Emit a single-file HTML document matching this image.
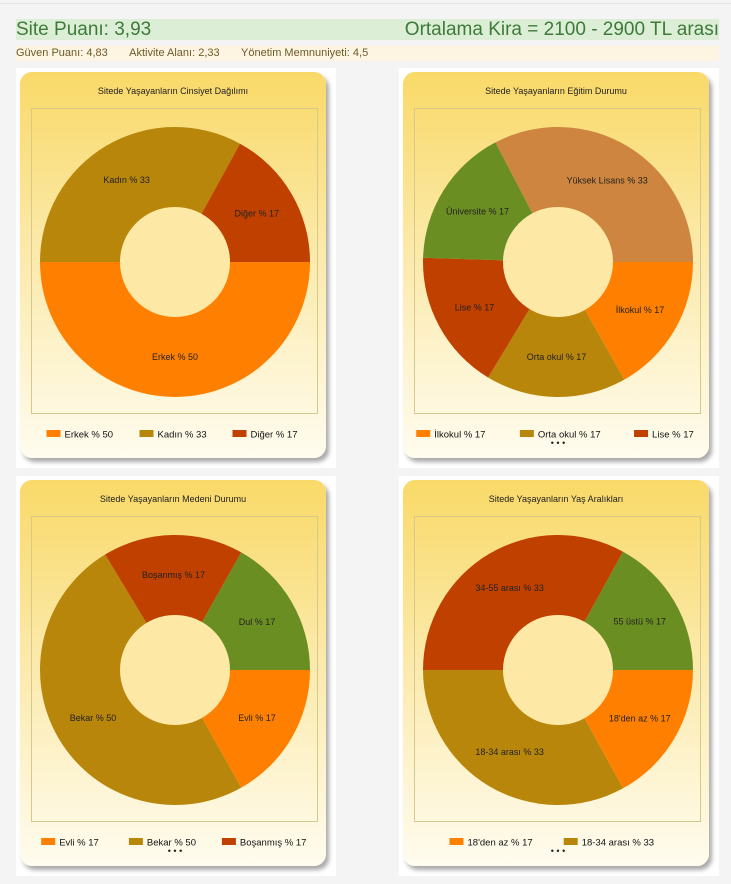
<!DOCTYPE html>
<html><head><meta charset="utf-8"><style>
body{margin:0;width:731px;height:884px;background:#f4f4f4;font-family:"Liberation Sans",sans-serif;position:relative;overflow:hidden}
.top{position:absolute;left:0;top:0;width:731px;height:3px;border-bottom:1px solid #e6e6e6}
.h1{position:absolute;left:16px;top:19px;width:703px;height:21px;background:#dcefd6;color:#3d7a3a;font-size:19px;line-height:21px}
.h1 .r{position:absolute;right:0;top:0}
.h2{position:absolute;left:16px;top:46px;width:703px;height:15px;background:#fdf5e2;color:#6b5a2a;font-size:11px;line-height:15px}
.panel{position:absolute;width:320px;height:400px;background:#fff}
.card{position:absolute;left:4px;top:4px;width:306px;height:386px;border-radius:12px;background:linear-gradient(#f9d968 0%,#fbe9a8 45%,#fffcef 100%);box-shadow:3px 4px 4px #aaa}
.ttl{position:absolute;left:0;top:14px;width:100%;text-align:center;font-size:9px;color:#222}
svg{position:absolute;left:0;top:0}
</style></head><body>
<div class="top"></div>
<div class="h1">Site Puanı: 3,93<span class="r">Ortalama Kira = 2100 - 2900 TL arası</span></div>
<div class="h2">Güven Puanı: 4,83 &nbsp;&nbsp;&nbsp;&nbsp;&nbsp;&nbsp;Aktivite Alanı: 2,33 &nbsp;&nbsp;&nbsp;&nbsp;&nbsp;&nbsp;Yönetim Memnuniyeti: 4,5</div>
<div id="root"></div>
<script>
const titles=["Sitede Yaşayanların Cinsiyet Dağılımı","Sitede Yaşayanların Eğitim Durumu","Sitede Yaşayanların Medeni Durumu","Sitede Yaşayanların Yaş Aralıkları"];
const labels0=["Erkek","Kadın","Diğer"];
const values0=[50,33,17];
const colors0=["#ff8000","#b8860b","#c04000"];
const labels1=["İlkokul","Orta okul","Lise","Üniversite","Yüksek Lisans"];
const values1=[17,17,17,17,33];
const colors1=["#ff8000","#b8860b","#c04000","#6b8e23","#cd853f"];
const labels2=["Evli","Bekar","Boşanmış","Dul"];
const values2=[17,50,17,17];
const colors2=["#ff8000","#b8860b","#c04000","#6b8e23"];
const labels3=["18'den az","18-34 arası","34-55 arası","55 üstü"];
const values3=[17,33,33,17];
const colors3=["#ff8000","#b8860b","#c04000","#6b8e23"];
const legendCounts=[3,3,3,2];
const charts=[[labels0,values0,colors0],[labels1,values1,colors1],[labels2,values2,colors2],[labels3,values3,colors3]];
const pos=[[16,68],[399,68],[16,476],[399,476]];
const NS="http://www.w3.org/2000/svg";
const root=document.getElementById('root');
charts.forEach((c,i)=>{
 const [labs,vals,cols]=c;
 const p=document.createElement('div');p.className='panel';
 
 
 p.style.left=pos[i][0]+'px';p.style.top=pos[i][1]+'px';
 const card=document.createElement('div');card.className='card';
 
 
 p.appendChild(card);
 const t=document.createElement('div');t.className='ttl';t.textContent=titles[i];
 
 
 card.appendChild(t);
 const svg=document.createElementNS(NS,'svg');svg.setAttribute('width',306);svg.setAttribute('height',386);
 card.appendChild(svg);
 const box=document.createElementNS(NS,'rect');
 box.setAttribute('x',11.5);box.setAttribute('y',36.5);box.setAttribute('width',286);box.setAttribute('height',305);
 box.setAttribute('fill','none');box.setAttribute('stroke','#d8c98a');
 
 
 svg.appendChild(box);
 const cx=155,cy=190,R=135,r=55;
 const total=vals.reduce((a,b)=>a+b,0);
 let a0=0;
 vals.forEach((v,k)=>{
  const a1=a0+v/total*2*Math.PI;
  const pt=(rad,a)=>[cx+rad*Math.cos(a),cy+rad*Math.sin(a)];
  const [x1,y1]=pt(R,a0),[x2,y2]=pt(R,a1);
  const large=(a1-a0)>Math.PI?1:0;
  const path=document.createElementNS(NS,'path');
  path.setAttribute('d',`M${cx},${cy}L${x1},${y1}A${R},${R} 0 ${large} 1 ${x2},${y2}Z`);
  path.setAttribute('fill',cols[k]);
  
  
  svg.appendChild(path);
  const am=(a0+a1)/2;const [lx,ly]=pt(95,am);
  const tx=document.createElementNS(NS,'text');
  tx.setAttribute('x',lx);tx.setAttribute('y',ly+3);tx.setAttribute('text-anchor','middle');
  tx.setAttribute('font-size','9');tx.setAttribute('fill','#222');
  tx.textContent=labs[k]+' % '+v;
  
  
  svg.appendChild(tx);
  a0=a1;
 });
 const hole=document.createElementNS(NS,'circle');
 hole.setAttribute('cx',cx);hole.setAttribute('cy',cy);hole.setAttribute('r',r);hole.setAttribute('fill','#fde8a6');
 
 
 svg.appendChild(hole);
 // legend
 const n=legendCounts[i];
 const items=[];let w=0;
 for(let k=0;k<n;k++){const tw=(labs[k].length+5)*5.3+18;items.push(tw);w+=tw+22;}
 w-=22;
 let x=cx-w/2;const ly=364;
 for(let k=0;k<n;k++){
  const g=document.createElementNS(NS,'g');
  
  
  const sw=document.createElementNS(NS,'rect');
  sw.setAttribute('x',x);sw.setAttribute('y',ly-6);sw.setAttribute('width',14);sw.setAttribute('height',7);sw.setAttribute('fill',cols[k]);
  g.appendChild(sw);
  const tx=document.createElementNS(NS,'text');
  tx.setAttribute('x',x+18);tx.setAttribute('y',ly+1.5);tx.setAttribute('font-size','9.5');tx.setAttribute('fill','#111');
  tx.textContent=labs[k]+' % '+vals[k];
  g.appendChild(tx);svg.appendChild(g);
  x+=items[k]+22;
 }
 if(labs.length>n){
  const d=document.createElementNS(NS,'text');
  d.setAttribute('x',cx);d.setAttribute('y',ly+10);d.setAttribute('text-anchor','middle');d.setAttribute('font-size','9');d.setAttribute('fill','#222');
  d.textContent='• • •';
  
  
  svg.appendChild(d);
 }
 root.appendChild(p);
});
</script>
</body></html>
